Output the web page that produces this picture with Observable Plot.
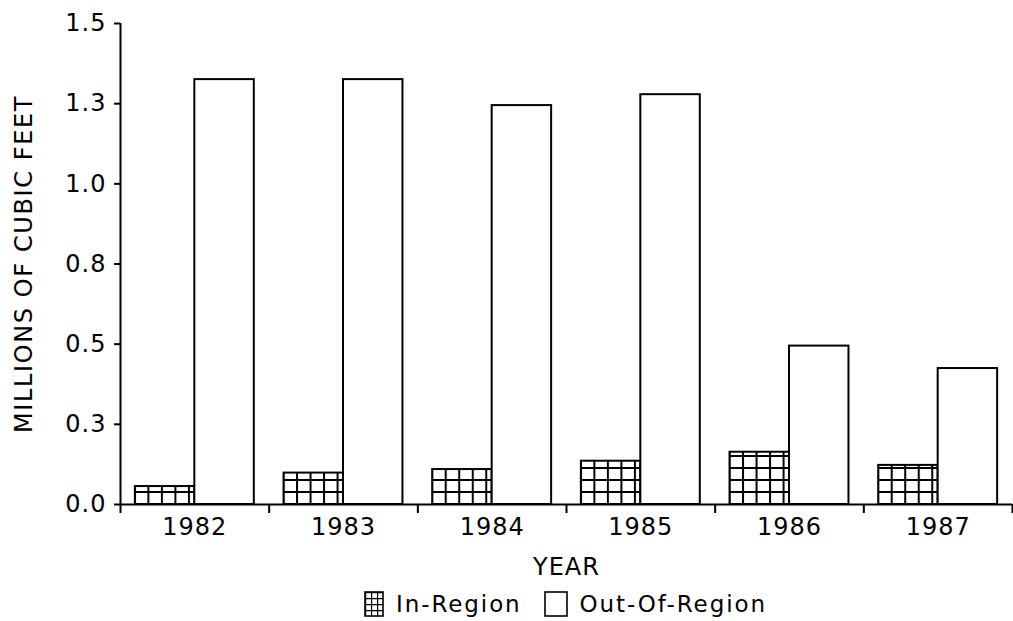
<!DOCTYPE html>
<html>
<head>
<meta charset="utf-8">
<script src="https://cdn.jsdelivr.net/npm/d3@7"></script>
<script src="https://cdn.jsdelivr.net/npm/@observablehq/plot@0.6"></script>
<style>
  body { margin: 0; background: #fff; font-family: "DejaVu Sans", sans-serif; color: #000; }
  #chart { width: 1013px; height: 580px; }
  #legend { display: flex; justify-content: center; align-items: center; height: 48px; padding-left: 118px; font-size: 23px; letter-spacing: 1.9px; }
  #legend .item { display: flex; align-items: center; }
  #legend svg { display: block; margin-right: 12px; }
  #legend .gap { width: 22px; }
</style>
</head>
<body>
<div id="chart"></div>
<div id="legend"></div>
<script>
// ---- data ----
const years = [1982, 1983, 1984, 1985, 1986, 1987];
const inRegion = [0.056, 0.098, 0.109, 0.135, 0.163, 0.122];
const outRegion = [1.325, 1.325, 1.244, 1.278, 0.494, 0.424];
const yTicks = [0, 0.25, 0.5, 0.75, 1.0, 1.25, 1.5];
const seriesNames = ["In-Region", "Out-Of-Region"];
const yLabel = "MILLIONS OF CUBIC FEET";
const xLabel = "YEAR";

const rows = years.map((y, i) => ({year: y, inRegion: inRegion[i], outRegion: outRegion[i]}));
const boundaries = years.map(y => y - 0.5).concat([years[years.length - 1] + 0.5]);
const half = 0.4;

const plot = Plot.plot({
  width: 1013,
  height: 580,
  marginLeft: 120,
  marginRight: 1,
  marginTop: 23,
  marginBottom: 76,
  style: {fontFamily: '"DejaVu Sans", sans-serif', fontSize: "24px", letterSpacing: "1px", color: "#000", background: "#fff"},
  x: {domain: [boundaries[0], boundaries[boundaries.length - 1]]},
  y: {domain: [0, 1.5]},
  marks: [
    Plot.rectY(rows, {x1: d => d.year - half, x2: "year", y: "inRegion", fill: "url(#gridfill)", stroke: "#000", strokeWidth: 2}),
    Plot.rectY(rows, {x1: "year", x2: d => d.year + half, y: "outRegion", fill: "#fff", stroke: "#000", strokeWidth: 2}),
    Plot.ruleY([0], {strokeWidth: 2}),
    Plot.ruleX([boundaries[0]], {strokeWidth: 2}),
    Plot.axisY({ticks: yTicks, tickSize: 6, tickPadding: 8, tickFormat: d => d.toFixed(1), strokeWidth: 2,
      fontSize: 24, label: yLabel, labelAnchor: "center", labelArrow: "none", labelOffset: 106}),
    Plot.axisX({ticks: boundaries, tickSize: 9, tickFormat: () => "", strokeWidth: 2, label: null}),
    Plot.axisX({ticks: years, tickSize: 0, tickPadding: 13, tickFormat: d => String(d), fontSize: 24,
      label: xLabel, labelAnchor: "center", labelArrow: "none", labelOffset: 70})
  ]
});
document.getElementById("chart").appendChild(plot);

// wider spacing for the rotated axis title, as in the source
d3.select(plot).selectAll("text").filter(function() { return this.textContent === yLabel; })
  .style("letter-spacing", "1.6px");

// crosshatch pattern aligned to the bars
const xs = plot.scale("x"), ys = plot.scale("y");
const tileW = (xs.apply(years[1]) - xs.apply(years[0])) / 11;
const tileH = 12;
const svg = d3.select(plot);
const pat = svg.insert("defs", ":first-child").append("pattern")
  .attr("id", "gridfill").attr("patternUnits", "userSpaceOnUse")
  .attr("x", xs.apply(years[0] - half) - 1).attr("y", ys.apply(0) - 1)
  .attr("width", tileW).attr("height", tileH);
pat.append("rect").attr("width", tileW).attr("height", tileH).attr("fill", "#fff");
pat.append("path").attr("d", `M1,0V${tileH}M0,1H${tileW}`).attr("stroke", "#000").attr("stroke-width", 2).attr("fill", "none");

// legend
const legend = d3.select("#legend");
seriesNames.forEach((name, i) => {
  if (i > 0) legend.append("div").attr("class", "gap");
  const item = legend.append("div").attr("class", "item");
  const w = i === 0 ? 18 : 22;
  const s = item.append("svg").attr("width", w + 2).attr("height", 26);
  if (i === 0) {
    const p2 = s.append("defs").append("pattern").attr("id", "gridfill2").attr("patternUnits", "userSpaceOnUse")
      .attr("x", 1).attr("y", 1).attr("width", 6).attr("height", 6);
    p2.append("path").attr("d", "M0.5,0V6M0,0.5H6").attr("stroke", "#000").attr("stroke-width", 1.4);
  }
  s.append("rect").attr("x", 1).attr("y", 1).attr("width", w).attr("height", 24)
    .attr("fill", i === 0 ? "url(#gridfill2)" : "#fff").attr("stroke", "#000").attr("stroke-width", 1.6);
  item.append("span").text(name);
});
</script>
</body>
</html>
